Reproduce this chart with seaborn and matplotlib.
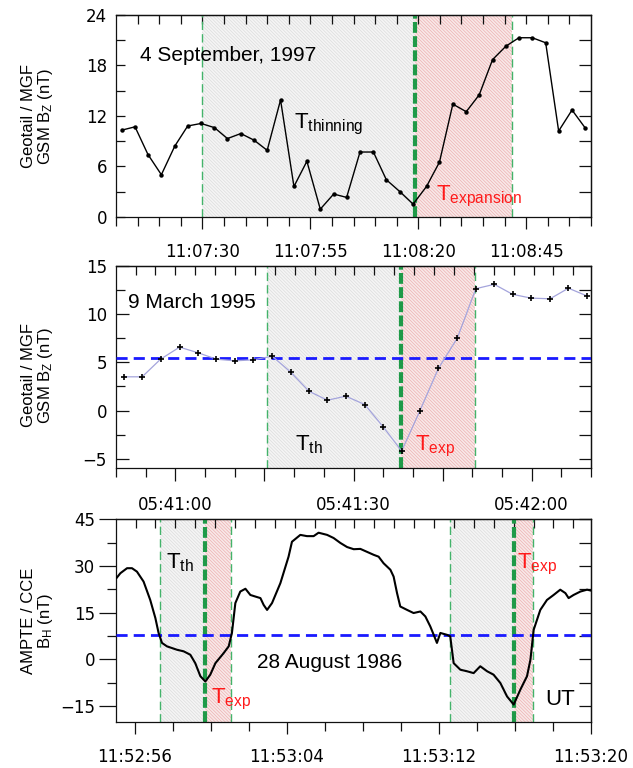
import numpy as np
import pandas as pd
import matplotlib
matplotlib.use("Agg")
import matplotlib.pyplot as plt
from matplotlib.ticker import FixedLocator, MultipleLocator, NullFormatter, FixedFormatter
import seaborn as sns

# ---------------- data ----------------
# Panel 1: Geotail/MGF GSM Bz, 4 September 1997 (seconds after 11:07:00)
t1 = [11.3, 14.4, 17.4, 20.5, 23.6, 26.6, 29.7, 32.8, 35.8, 38.9, 42.0, 45.0,
      48.1, 51.2, 54.2, 57.3, 60.4, 63.4, 66.5, 69.6, 72.6, 75.7, 78.8, 81.9,
      84.9, 88.0, 91.1, 94.1, 97.2, 100.3, 103.3, 106.4, 109.5, 112.5, 115.6, 118.6]
bz1 = [10.3, 10.7, 7.4, 5.0, 8.4, 10.8, 11.1, 10.6, 9.3, 9.9, 9.1, 7.9,
       13.9, 3.6, 6.6, 0.9, 2.7, 2.3, 7.7, 7.7, 4.4, 3.0, 1.5, 3.6,
       6.5, 13.4, 12.5, 14.5, 18.7, 20.3, 21.3, 21.3, 20.7, 10.2, 12.7, 10.6]
p1_marks = [29.8, 79.3, 101.8]          # start thinning, start expansion, end
p1_ticks = [30, 55, 80, 105]
p1_labels = ["11:07:30", "11:07:55", "11:08:20", "11:08:45"]

# Panel 2: Geotail/MGF GSM Bz, 9 March 1995 (seconds after 05:40:00)
t2 = [51.3, 54.4, 57.5, 60.7, 63.8, 66.9, 70.0, 73.1, 76.3, 79.4, 82.5, 85.6,
      88.7, 91.9, 95.0, 98.1, 101.2, 104.3, 107.5, 110.6, 113.7, 116.8, 119.9,
      123.1, 126.2, 129.3]
bz2 = [3.5, 3.5, 5.33, 6.58, 6.0, 5.33, 5.16, 5.26, 5.64, 4.0, 2.0, 1.07,
       1.49, 0.62, -1.7, -4.2, 0.0, 4.37, 7.55, 12.65, 13.1, 12.06, 11.67,
       11.6, 12.7, 11.9]
p2_level = 5.5
p2_marks = [75.35, 98.0, 110.5]
p2_ticks = [60, 75, 90, 105, 120]
p2_labels = ["05:41:00", "", "05:41:30", "", "05:42:00"]

# Panel 3: AMPTE/CCE BH, 28 August 1986 (seconds after 11:52:00)
t3 = [55.02, 55.23, 55.58, 55.84, 56.1, 56.45, 56.8, 57.07, 57.24, 57.42,
      57.68, 58.21, 58.56, 58.91, 59.17, 59.44, 59.7, 59.96, 60.23, 60.66,
      60.93, 61.1, 61.28, 61.54, 61.81, 62.07, 62.33, 62.6, 62.77, 62.95,
      63.21, 63.65, 64.08, 64.26, 64.7, 65.05, 65.4, 65.66, 66.11, 66.45,
      66.81, 67.16, 67.51, 67.86, 68.56, 68.82, 69.08, 69.44, 69.61, 69.79,
      69.96, 70.32, 70.66, 71.02, 71.28, 71.54, 71.72, 71.89, 72.07, 72.42,
      72.59, 72.77, 73.12, 73.47, 73.82, 74.17, 74.53, 74.87, 75.23, 75.58,
      75.93, 76.28, 76.63, 76.81, 76.98, 77.33, 77.68, 78.03, 78.38, 78.65,
      78.82, 79.08, 79.44, 79.79, 80.0]
bh3 = [26.1, 27.7, 29.3, 29.3, 28.2, 25.0, 19.1, 13.3, 8.5, 5.3,
       4.2, 3.1, 2.6, 1.5, -1.2, -5.4, -7.1, -4.9, -1.2, 2.0,
       4.2, 8.5, 18.1, 21.8, 22.7, 20.7, 20.2, 19.7, 17.5, 15.9,
       18.1, 24.5, 33.0, 37.8, 40.0, 39.6, 39.6, 40.7, 40.0, 39.0,
       37.4, 36.1, 35.4, 35.5, 33.6, 33.0, 30.9, 28.8, 26.6, 21.3,
       17.0, 15.9, 14.9, 15.4, 13.8, 10.6, 7.9, 5.3, 8.5, 7.9,
       7.4, -1.2, -3.3, -3.8, -4.4, -2.2, -3.8, -4.9, -7.6, -11.9,
       -14.5, -9.7, -5.4, -0.1, 9.5, 15.9, 19.1, 20.7, 22.4, 21.3,
       19.7, 20.7, 21.8, 22.4, 22.1]
p3_level = 8.0
p3_marks_a = [57.33, 59.7, 61.07]
p3_marks_b = [72.6, 75.96, 76.95]
p3_ticks = [56, 64, 72, 80]
p3_labels = ["11:52:56", "11:53:04", "11:53:12", "11:53:20"]

# ---------------- style ----------------
sns.set_style("ticks")
plt.rcParams["font.family"] = ["DejaVu Sans"]
plt.rcParams["mathtext.fontset"] = "custom"
plt.rcParams["mathtext.rm"] = "Liberation Sans"
plt.rcParams["mathtext.it"] = "Liberation Sans:italic"
plt.rcParams["hatch.linewidth"] = 0.5
plt.rcParams["axes.linewidth"] = 0.9
plt.rcParams["axes.edgecolor"] = "#111111"
for key in ("text.color", "axes.labelcolor", "xtick.color", "ytick.color"):
    plt.rcParams[key] = "black"

TXT = "Liberation Sans"
THIN_GREEN = "#43b36a"
THICK_GREEN = "#1f9a48"
BLUE = "#1a1aff"
GRAY_FACE, GRAY_HATCH = "#f5f5f5", "#dcdcdc"
RED_FACE, RED_HATCH = "#f9e8e8", "#ebb2b2"

fig = plt.figure(figsize=(6.33, 7.68), dpi=100)
L, W = 0.1833, 0.7504
ax1 = fig.add_axes([L, 0.7178, W, 0.2626])
ax2 = fig.add_axes([L, 0.3902, W, 0.2634])
ax3 = fig.add_axes([L, 0.0603, W, 0.2635])


def shade(ax, x0, x1, face, hatch):
    ax.axvspan(x0, x1, facecolor=face, edgecolor=hatch, hatch="\\" * 10,
               lw=0, zorder=0)


def phases(ax, marks):
    a, b, c = marks
    shade(ax, a, b, GRAY_FACE, GRAY_HATCH)
    shade(ax, b, c, RED_FACE, RED_HATCH)
    for x in (a, c):
        ax.axvline(x, color=THIN_GREEN, lw=1.0, ls=(0, (6, 3)), zorder=2)
    ax.axvline(b, color=THICK_GREEN, lw=3.0, ls=(0, (2.6, 0.8)), zorder=2)


def frame(ax, xlim, ylim, ymaj, ymin, left_dir, left_len, ticks, labels,
          xminor, top_locs):
    ax.set_xlim(*xlim)
    ax.set_ylim(*ylim)
    ax.yaxis.set_major_locator(MultipleLocator(ymaj))
    ax.yaxis.set_minor_locator(MultipleLocator(ymin))
    ax.xaxis.set_major_locator(FixedLocator(ticks))
    ax.xaxis.set_major_formatter(FixedFormatter(labels))
    ax.xaxis.set_minor_locator(MultipleLocator(xminor))
    ax.tick_params(axis="x", which="both", direction="out", bottom=True,
                   top=False, labelsize=12, pad=10.5, width=0.9,
                   color="#111111")
    ax.tick_params(axis="x", which="major", length=8.5)
    ax.tick_params(axis="x", which="minor", length=6.5)
    ax.tick_params(axis="y", which="both", direction=left_dir, left=True,
                   right=False, labelsize=12, width=0.9, color="#111111",
                   pad=6.5 if left_dir == "in" else 3)
    ax.tick_params(axis="y", which="major", length=left_len)
    ax.tick_params(axis="y", which="minor", length=6.5)

    sec_y = ax.secondary_yaxis("right")
    sec_y.yaxis.set_major_locator(MultipleLocator(ymaj))
    sec_y.yaxis.set_minor_locator(MultipleLocator(ymin))
    sec_y.tick_params(axis="y", which="both", direction="in", length=9,
                      width=0.9, labelright=False, color="#111111")

    sec_x = ax.secondary_xaxis("top")
    sec_x.xaxis.set_major_locator(FixedLocator(top_locs))
    sec_x.xaxis.set_minor_locator(FixedLocator([]))
    sec_x.xaxis.set_major_formatter(NullFormatter())
    sec_x.tick_params(axis="x", which="both", direction="in", length=6.5,
                      width=0.9, color="#111111")
    for s in ax.spines.values():
        s.set_visible(True)


def top_positions(xlim):
    x0, x1 = xlim
    fr = np.arange(0.041, 0.999, 0.0419)
    return list(x0 + fr * (x1 - x0))


# ---------------- panel 1 ----------------
phases(ax1, p1_marks)
df1 = pd.DataFrame({"t": t1, "bz": bz1})
sns.lineplot(data=df1, x="t", y="bz", ax=ax1, color="black", lw=1.0,
             marker="o", markersize=3.2, markeredgewidth=0, estimator=None,
             sort=False, zorder=4)
frame(ax1, (10, 120), (0, 24), 6, 3, "in", 6.5, p1_ticks, p1_labels, 5,
      list(np.arange(15, 120, 5)))
ax1.set_xlabel("")
ax1.set_ylabel("Geotail / MGF\nGSM B$_\\mathrm{Z}$ (nT)", family=TXT,
               fontsize=12, linespacing=1.0, va="center")
ax1.yaxis.set_label_coords(-0.165, 0.5)
ax1.text(0.0505, 0.80, "4 September, 1997", transform=ax1.transAxes,
         family=TXT, fontsize=15, va="center", ha="left")
ax1.text(0.375, 0.44, "T$_{\\mathrm{thinning}}$", transform=ax1.transAxes,
         family=TXT, fontsize=16, va="baseline", ha="left")
ax1.text(0.674, 0.083, "T$_{\\mathrm{expansion}}$", transform=ax1.transAxes,
         family=TXT, fontsize=16, va="baseline", ha="left", color="#ff1a1a")

# ---------------- panel 2 ----------------
phases(ax2, p2_marks)
ax2.axhline(p2_level, color=BLUE, lw=2.0, ls=(0, (4, 2.2)), zorder=3)
df2 = pd.DataFrame({"t": t2, "bz": bz2})
sns.lineplot(data=df2, x="t", y="bz", ax=ax2, color="#a4a4dc", lw=0.9,
             estimator=None, sort=False, zorder=4)
sns.scatterplot(data=df2, x="t", y="bz", ax=ax2, marker="+", s=24,
                color="black", linewidth=1.2, zorder=5)
frame(ax2, (50, 130), (-6, 15), 5, 2.5, "in", 9, p2_ticks, p2_labels, 5,
      top_positions((50, 130)))
ax2.tick_params(axis="x", which="major", length=9.5)
ax2.set_xlabel("")
ax2.set_ylabel("Geotail / MGF\nGSM B$_\\mathrm{Z}$ (nT)", family=TXT,
               fontsize=12, linespacing=1.0, va="center")
ax2.yaxis.set_label_coords(-0.165, 0.46)
ax2.text(0.026, 0.793, "9 March 1995", transform=ax2.transAxes,
         family=TXT, fontsize=15, va="baseline", ha="left")
ax2.text(0.376, 0.09, "T$_{\\mathrm{th}}$", transform=ax2.transAxes,
         family=TXT, fontsize=16, va="baseline", ha="left")
ax2.text(0.63, 0.09, "T$_{\\mathrm{exp}}$", transform=ax2.transAxes,
         family=TXT, fontsize=16, va="baseline", ha="left", color="#ff1a1a")

# ---------------- panel 3 ----------------
phases(ax3, p3_marks_a)
phases(ax3, p3_marks_b)
ax3.axhline(p3_level, color=BLUE, lw=2.0, ls=(0, (4, 2.2)), zorder=3)
df3 = pd.DataFrame({"t": t3, "bh": bh3})
sns.lineplot(data=df3, x="t", y="bh", ax=ax3, color="black", lw=1.5,
             estimator=None, sort=False, zorder=4)
frame(ax3, (55, 80), (-20, 45), 15, 7.5, "out", 12, p3_ticks, p3_labels, 2,
      top_positions((55, 80)))
ax3.set_xlabel("")
ax3.set_ylabel("AMPTE / CCE\nB$_\\mathrm{H}$ (nT)", family=TXT,
               fontsize=12, linespacing=1.0, va="center")
ax3.yaxis.set_label_coords(-0.165, 0.5)
ax3.text(0.105, 0.758, "T$_{\\mathrm{th}}$", transform=ax3.transAxes,
         family=TXT, fontsize=16, va="baseline", ha="left")
ax3.text(0.20, 0.091, "T$_{\\mathrm{exp}}$", transform=ax3.transAxes,
         family=TXT, fontsize=16, va="baseline", ha="left", color="#ff1a1a")
ax3.text(0.297, 0.265, "28 August 1986", transform=ax3.transAxes,
         family=TXT, fontsize=15, va="baseline", ha="left")
ax3.text(0.845, 0.758, "T$_{\\mathrm{exp}}$", transform=ax3.transAxes,
         family=TXT, fontsize=16, va="baseline", ha="left", color="#ff1a1a")
ax3.text(0.903, 0.083, "UT", transform=ax3.transAxes,
         family=TXT, fontsize=16, va="baseline", ha="left")

fig.savefig("out.png", dpi=100)
